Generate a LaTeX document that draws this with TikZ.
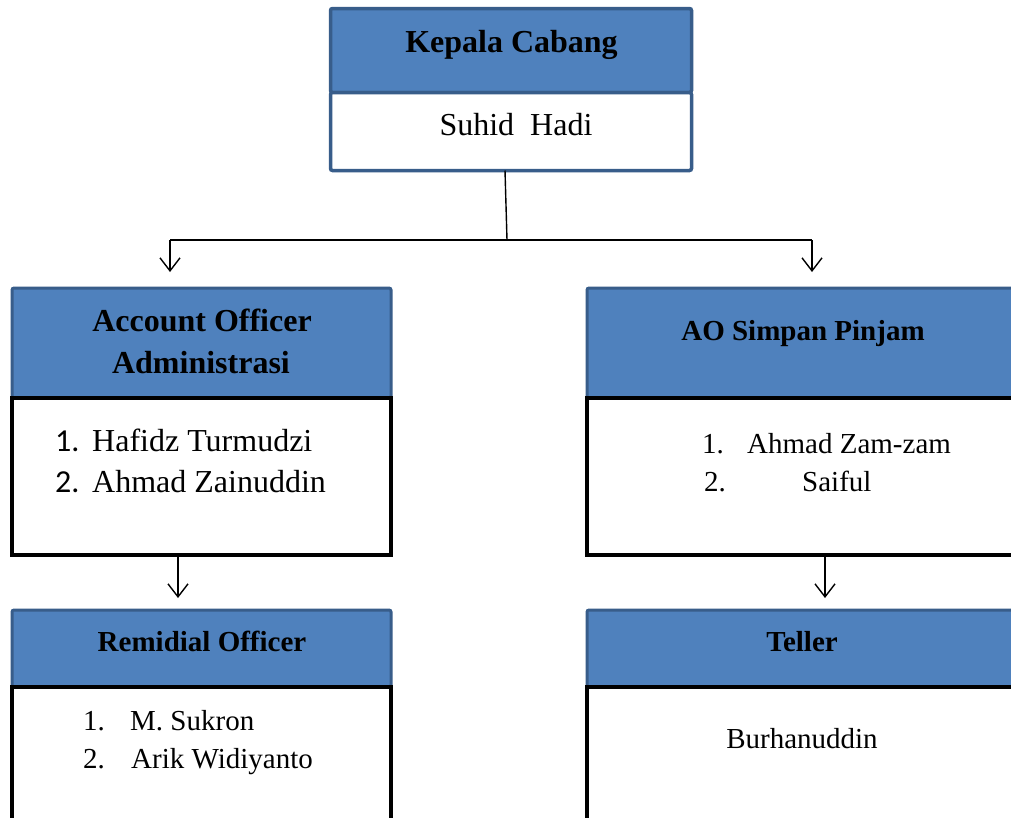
\documentclass[tikz,border=0pt]{standalone}
\usepackage{fontspec}
\setmainfont{Liberation Serif}
\newfontfamily\calfont{Carlito}
\usetikzlibrary{arrows.meta}
\definecolor{hdrblue}{HTML}{4F81BD}
\definecolor{hdredge}{HTML}{385D8A}
\tikzset{
  every node/.style={font=\fontsize{29}{35}\selectfont, inner sep=0pt},
  big/.style={font=\fontsize{32}{38}\selectfont},
  bigb/.style={font=\fontsize{32}{38}\selectfont\bfseries},
  hdr/.style={draw=hdredge, line width=3pt, fill=hdrblue, rounded corners=2pt, anchor=north west, outer sep=0pt},
  topbody/.style={draw=hdredge, line width=3.5pt, fill=white, rounded corners=2pt, anchor=north west, outer sep=0pt},
  bodyblk/.style={draw=black, line width=4.5pt, fill=white, anchor=north west, outer sep=0pt},
  ttl/.style={anchor=base, font=\fontsize{29}{35}\selectfont\bfseries, align=center},
  txt/.style={anchor=base west},
  conn/.style={draw=black, line width=1.4pt},
  arr/.style={conn, -{Straight Barb[length=13pt,width=20pt,line width=1.4pt]}}
}
\begin{document}
\begin{tikzpicture}[x=1pt,y=-1pt]
\useasboundingbox (0,0) rectangle (1011,817);
\clip (0,0) rectangle (1011,817);
\fill[white] (0,0) rectangle (1011,817);

% top box
\node[hdr, draw=hdredge, line width=3.5pt, minimum width=361pt, minimum height=84pt] (kh) at (330.5,8.5) {};
\node[topbody, minimum width=361pt, minimum height=78pt] (kb) at (330.5,92.5) {};
\node[ttl, bigb] (kt) at (511.5,52) {Kepala Cabang};
\node[anchor=base, big] (kn) at (516,135) {Suhid\ \ Hadi};

% account officer administrasi
\node[hdr, minimum width=379pt, minimum height=110pt] (aoh) at (12,288) {};
\node[bodyblk, minimum width=379pt, minimum height=157pt] (aob) at (12,398) {};
\node[ttl, bigb] (aot1) at (202,331) {Account Officer};
\node[ttl, bigb] (aot2) at (201,373) {Administrasi};
\node[txt, big] (aon1) at (55,451) {\calfont 1.};
\node[txt, big] (aoa1) at (92,451) {Hafidz Turmudzi};
\node[txt, big] (aon2) at (55,492) {\calfont 2.};
\node[txt, big] (aoa2) at (92,492) {Ahmad Zainuddin};

% AO simpan pinjam
\node[hdr, minimum width=440pt, minimum height=110pt] (sph) at (587,288) {};
\node[bodyblk, minimum width=440pt, minimum height=157pt] (spb) at (587,398) {};
\node[ttl] (spt) at (803,340) {AO Simpan Pinjam};
\node[txt] (spn1) at (702,453) {1.};
\node[txt] (spa1) at (747,453) {Ahmad Zam-zam};
\node[txt] (spn2) at (704,491) {2.};
\node[txt] (spa2) at (802,491) {Saiful};

% remidial officer
\node[hdr, minimum width=379pt, minimum height=77pt] (roh) at (12,610) {};
\node[bodyblk, minimum width=379pt, minimum height=160pt] (rob) at (12,687) {};
\node[ttl] (rot) at (202,651) {Remidial Officer};
\node[txt] (ron1) at (83,730) {1.};
\node[txt] (roa1) at (130,730) {M. Sukron};
\node[txt] (ron2) at (83,768) {2.};
\node[txt] (roa2) at (131,768) {Arik Widiyanto};

% teller
\node[hdr, minimum width=440pt, minimum height=77pt] (teh) at (587,610) {};
\node[bodyblk, minimum width=440pt, minimum height=160pt] (teb) at (587,687) {};
\node[ttl] (tet) at (802,651) {Teller};
\node[anchor=base] (tea) at (802,748) {Burhanuddin};

% connectors
\coordinate (j) at (507,240);
\coordinate (jl) at (170,240);
\coordinate (jr) at (812,240);
\draw[conn] ([xshift=-6pt]kb.south) -- (j);
\draw[conn] (jl) -- (jr);
\draw[arr] (jl) -- ([yshift=16pt]aoh.north -| jl);
\draw[arr] (jr) -- ([yshift=16pt]sph.north -| jr);
\draw[arr] (aob.south -| 178,0) -- ([yshift=12pt]roh.north -| 178,0);
\draw[arr] (spb.south -| 825,0) -- ([yshift=12pt]teh.north -| 825,0);
\end{tikzpicture}
\end{document}
